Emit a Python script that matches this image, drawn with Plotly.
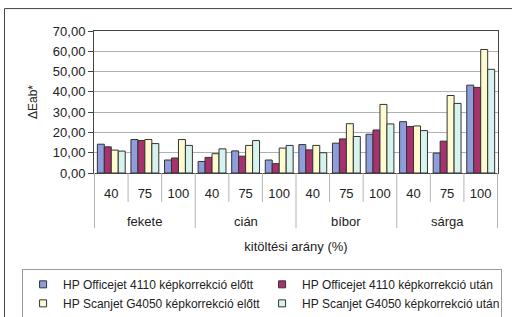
import plotly.graph_objects as go

colors_names = ["fekete", "cián", "bíbor", "sárga"]
fill_levels = ["40", "75", "100"]
series_names = [
    "HP Officejet 4110 képkorrekció előtt",
    "HP Officejet 4110 képkorrekció után",
    "HP Scanjet G4050 képkorrekció előtt",
    "HP Scanjet G4050 képkorrekció után",
]
officejet_before = [14.2, 16.5, 6.4, 5.7, 10.9, 6.4, 14.0, 14.7, 19.1, 25.3, 9.8, 43.3]
officejet_after = [12.9, 16.0, 7.4, 7.7, 8.3, 4.6, 11.4, 16.8, 21.2, 22.9, 15.7, 42.2]
scanjet_before = [11.3, 16.5, 16.5, 9.5, 13.6, 12.3, 13.6, 24.3, 33.8, 23.2, 38.2, 60.9]
scanjet_after = [10.8, 14.5, 13.6, 11.9, 16.0, 13.6, 10.0, 18.0, 24.2, 20.9, 34.3, 51.1]
y_ticks = [0, 10, 20, 30, 40, 50, 60, 70]

series_values = [officejet_before, officejet_after, scanjet_before, scanjet_after]
series_colors = ["#8E9DDB", "#A8326E", "#FFFBCF", "#D6F3EE"]

keys = [f"{c} {l}" for c in colors_names for l in fill_levels]
inner = [l for _ in colors_names for l in fill_levels]

FONT = "Arial, Liberation Sans, sans-serif"
TXT = "#222222"
fig = go.Figure()
for name, vals, col in zip(series_names, series_values, series_colors):
    fig.add_trace(go.Bar(
        x=keys, y=vals, name=name,
        marker=dict(color=col, line=dict(color="#333333", width=1)),
        showlegend=False,
    ))
for name, col in zip(series_names, series_colors):
    fig.add_trace(go.Scatter(
        x=[None], y=[None], mode="markers", name=name,
        marker=dict(symbol="square", size=7, color=col, line=dict(color="#333333", width=1)),
    ))

fig.update_layout(
    width=512, height=317,
    margin=dict(l=94, r=14, t=31, b=144, autoexpand=False),
    paper_bgcolor="white", plot_bgcolor="white",
    separators=", ",
    font=dict(family=FONT, size=13, color=TXT),
    barmode="group", bargap=0.17, bargroupgap=0,
    showlegend=True,
    legend=dict(
        orientation="h", x=-0.178, y=-0.675, xanchor="left", yanchor="top",
        bordercolor="#9a9a9a", borderwidth=1, bgcolor="white",
        entrywidth=194, entrywidthmode="pixels", itemwidth=30,
        font=dict(family=FONT, size=12, color=TXT),
        itemsizing="trace", tracegroupgap=0,
    ),
    xaxis=dict(
        type="category", tickmode="array", tickvals=keys, ticktext=inner,
        showline=True, linecolor="#444444", linewidth=1, mirror=True,
        ticks="", ticklabelstandoff=8,
        tickfont=dict(family=FONT, size=13, color=TXT),
        title=dict(text="kitöltési arány (%)", font=dict(family=FONT, size=13, color=TXT), standoff=42),
        showgrid=False, automargin=False,
    ),
    yaxis=dict(
        range=[0, 70], tickvals=y_ticks, tickformat=".2f",
        showline=True, linecolor="#444444", linewidth=1, mirror=True,
        ticks="outside", ticklen=5, tickcolor="#444444",
        showgrid=True, gridcolor="#b0b0b0", gridwidth=1,
        zeroline=False,
        tickfont=dict(family=FONT, size=13, color=TXT),
        title=dict(text="ΔEab*", font=dict(family=FONT, size=12, color=TXT), standoff=12),
        automargin=False,
    ),
)

# category dividers below the axis (inner level short, outer level long)
n = len(keys)
for i in range(n + 1):
    outer_edge = i % len(fill_levels) == 0
    fig.add_shape(type="line", xref="x", yref="paper",
                  x0=i - 0.5, x1=i - 0.5, y0=0, y1=-0.387 if outer_edge else -0.204,
                  line=dict(color="#b4b4b4", width=1))
# outer-level labels
for gi, g in enumerate(colors_names):
    fig.add_annotation(x=keys[gi * len(fill_levels) + 1], y=-0.345, xref="x", yref="paper",
                       text=g, showarrow=False, yanchor="middle",
                       font=dict(family=FONT, size=13, color=TXT))

fig.add_shape(type="rect", xref="paper", yref="paper",
              x0=-0.2215, x1=1.2, y0=-1.5, y1=1.158,
              line=dict(color="#444444", width=1), fillcolor="rgba(0,0,0,0)", layer="below")

fig.write_html("out.html", config={"displayModeBar": False},
               post_script="document.body.style.margin='0';")
